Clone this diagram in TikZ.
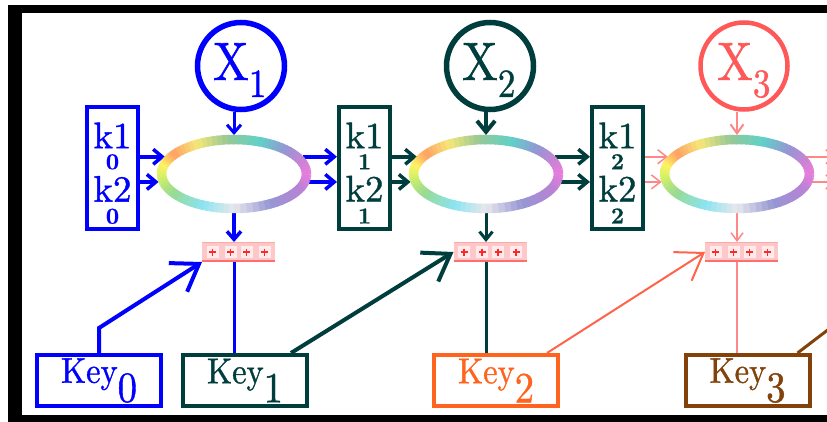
\documentclass[tikz,border=0pt]{standalone}
\usepackage{fontspec}
\usepackage{graphicx}
\newfontfamily\heavyrm{lmroman10-regular}[Extension=.otf,FakeBold=1]
\newfontfamily\heavybf{lmroman10-bold}[Extension=.otf,FakeBold=0.6]
\usetikzlibrary{arrows.meta,shapes.geometric,calc}

\definecolor{sblue}{RGB}{0,0,255}
\definecolor{steal}{RGB}{0,62,62}
\definecolor{sred}{RGB}{255,88,88}
\definecolor{spink}{RGB}{255,135,135}
\definecolor{sorange}{RGB}{255,100,30}
\definecolor{ssalmon}{RGB}{255,100,75}
\definecolor{sbrown}{RGB}{130,66,10}
\definecolor{pfill}{RGB}{255,200,200}
\definecolor{pline}{RGB}{255,110,110}
\definecolor{pplus}{RGB}{255,40,40}
\definecolor{rc0}{RGB}{232,125,222}
\definecolor{rc1}{RGB}{185,130,212}
\definecolor{rc2}{RGB}{150,150,212}
\definecolor{rc3}{RGB}{232,232,236}
\definecolor{rc4}{RGB}{140,228,242}
\definecolor{rc5}{RGB}{150,218,150}
\definecolor{rc6}{RGB}{212,240,100}
\definecolor{rc7}{RGB}{255,242,100}
\definecolor{rc8}{RGB}{255,160,100}
\definecolor{rc9}{RGB}{245,232,120}
\definecolor{rc10}{RGB}{150,200,150}
\definecolor{rc11}{RGB}{95,210,200}
\definecolor{rc12}{RGB}{150,150,212}
\definecolor{rc13}{RGB}{205,130,212}

\newcommand\circtext[1]{\scalebox{0.88}[1]{\heavyrm\fontsize{54}{54}\selectfont X\raisebox{-17pt}{\fontsize{40}{40}\selectfont #1}}}
\newcommand\keytext[1]{\scalebox{0.9}[1]{\heavyrm\fontsize{36}{36}\selectfont Key\raisebox{-19pt}{\fontsize{43}{43}\selectfont #1}}}
\newcommand\kstack[1]{\vbox{\offinterlineskip
  \halign{\hfil##\hfil\cr
   \heavyrm\fontsize{37}{37}\selectfont k1\cr
   \noalign{\kern 6pt}
   \heavybf\fontsize{23}{23}\selectfont #1\cr
   \noalign{\kern 6.5pt}
   \heavyrm\fontsize{37}{37}\selectfont k2\cr
   \noalign{\kern 7pt}
   \heavybf\fontsize{23}{23}\selectfont #1\cr}}}
\def\ringstops{0/25/rc0/rc1,25/60/rc1/rc2,60/90/rc2/rc3,90/115/rc3/rc4,115/145/rc4/rc5,145/175/rc5/rc6,175/195/rc6/rc7,195/215/rc7/rc8,215/240/rc8/rc9,240/265/rc9/rc10,265/290/rc10/rc11,290/315/rc11/rc12,315/340/rc12/rc13,340/360/rc13/rc0}
\newcommand\drawring[1]{%
  \foreach \ta/\tb/\ca/\cb in \ringstops {
    \foreach \i in {0,...,5}{
      \pgfmathsetmacro\sa{\ta+(\tb-\ta)*\i/6}
      \pgfmathsetmacro\sb{\ta+(\tb-\ta)*(\i+1)/6+0.8}
      \pgfmathtruncatemacro\pp{100*(\i+0.5)/6}
      \draw[line width=9.5pt,color=\cb!\pp!\ca] (#1.center) ++(\sa:72.5 and 34.5)
        arc[start angle=\sa,end angle=\sb,x radius=72.5,y radius=34.5];
    }
  }%
}

\begin{document}
\begin{tikzpicture}[x=1pt,y=-1pt,
  xcirc/.style={circle,minimum size=87pt,inner sep=0pt},
  ring/.style={ellipse,minimum width=154pt,minimum height=78pt,inner sep=0pt,outer sep=0pt},
  kbox/.style={rectangle,draw,line width=4pt,minimum width=51pt,minimum height=122pt,inner sep=0pt},
  keybox/.style={rectangle,draw,line width=4pt,minimum width=124pt,minimum height=51pt,inner sep=0pt},
  pbox/.style={rectangle,fill=pfill,minimum width=73pt,minimum height=20pt,inner sep=0pt,outer sep=0pt},
  ktxt/.style={anchor=north,inner sep=0pt},
  xtxt/.style={anchor=base west,inner sep=0pt},
  karrow/.style={line width=3.5pt,-{Straight Barb[length=9pt,width=15pt]}},
  thinarrow/.style={line width=1.5pt,-{Straight Barb[length=9pt,width=14pt]}},
  bigarrow/.style={-{Straight Barb[length=25pt,width=34pt]}}
]
\useasboundingbox (0,0) rectangle (827,422);
\clip (0,0) rectangle (827,422);
\fill[white] (0,0) rectangle (827,422);
% frame
\fill[black] (8,5) rectangle (22,422);
\fill[black] (8,5) rectangle (827,13);
\fill[black] (8,415) rectangle (827,422);

% circles
\node[xcirc,draw=sblue,line width=5.5pt] (x1) at (241,66) {};
\node[xtxt,text=sblue] (x1t) at (213,80) {\circtext{1}};
\node[xcirc,draw=steal,line width=5.5pt] (x2) at (490,66) {};
\node[xtxt,text=steal] (x2t) at (462,80) {\circtext{2}};
\node[xcirc,draw=sred,line width=4.5pt] (x3) at (744,66) {};
\node[xtxt,text=sred] (x3t) at (717,80) {\circtext{3}};

% ellipse anchors
\node[ring] (e1) at (234,174) {};
\node[ring] (e2) at (486,174) {};
\node[ring] (e3) at (737,174) {};

% k boxes
\node[kbox,draw=sblue] (k0) at (112.5,168) {};
\node[ktxt,text=sblue] (k0t) at (112.5,122.3) {\kstack{0}};
\node[kbox,draw=steal] (k1) at (364.5,168) {};
\node[ktxt,text=steal] (k1t) at (364.5,122.3) {\kstack{1}};
\node[kbox,draw=steal] (k2) at (617.5,168) {};
\node[ktxt,text=steal] (k2t) at (617.5,122.3) {\kstack{2}};

% plus boxes
\node[pbox] (p1) at (238.5,252) {};
\node[pbox] (p2) at (490,252) {};
\node[pbox] (p3) at (741.5,252) {};

% key boxes
\node[keybox,draw=sblue,text=sblue] (key0) at (99,380.5) {\keytext{0}};
\node[keybox,draw=steal,text=steal] (key1) at (245,380.5) {\keytext{1}};
\node[keybox,draw=sorange,text=sorange] (key2) at (496,380.5) {\keytext{2}};
\node[keybox,draw=sbrown,text=sbrown] (key3) at (747.5,380.5) {\keytext{3}};

\coordinate (k3in) at (836,170);
\coordinate (beyond) at (850,313);

% X arrows
\draw[sblue,line width=3pt,-{Straight Barb[length=8pt,width=14pt]}] (x1.south -| e1.north) -- (e1.north);
\draw[steal,line width=4pt,-{Straight Barb[length=11pt,width=18pt]}] (x2.south -| e2.north) -- (e2.north);
\draw[spink,line width=2pt,-{Straight Barb[length=9pt,width=13pt]}] (x3.south -| e3.north) -- (e3.north);

% k -> ellipse
\draw[sblue,karrow] (k0.east |- e1.166) -- (e1.166);
\draw[sblue,karrow] (k0.east |- e1.186) -- (e1.186);
\draw[steal,karrow] (k1.east |- e2.166) -- (e2.166);
\draw[steal,karrow] (k1.east |- e2.186) -- (e2.186);
\draw[spink,thinarrow] (k2.east |- e3.166) -- (e3.166);
\draw[spink,thinarrow] (k2.east |- e3.186) -- (e3.186);

% ellipse -> k
\draw[sblue,karrow] (e1.14) -- (e1.14 -| k1.west);
\draw[sblue,karrow] (e1.354) -- (e1.354 -| k1.west);
\draw[steal,karrow] (e2.14) -- (e2.14 -| k2.west);
\draw[steal,karrow] (e2.354) -- (e2.354 -| k2.west);
\draw[spink,thinarrow] (e3.14) -- (e3.14 -| k3in);
\draw[spink,thinarrow] (e3.354) -- (e3.354 -| k3in);

% ellipse -> plus box
\draw[sblue,line width=3.5pt,-{Straight Barb[length=8pt,width=14pt]}] (e1.south) -- (e1.south |- p1.north);
\draw[steal,line width=3pt,-{Straight Barb[length=8pt,width=13pt]}] (e2.south) -- (e2.south |- p2.north);
\draw[spink,line width=1.5pt,-{Straight Barb[length=8pt,width=12pt]}] (e3.south) -- (e3.south |- p3.north);

% plus box -> key
\draw[sblue,line width=3pt] (e1.south |- p1.south) -- (e1.south |- key1.north);
\draw[steal,line width=3pt] (e2.south |- p2.south) -- (e2.south |- key2.north);
\draw[spink,line width=1.5pt] (e3.south |- p3.south) -- (e3.south |- key3.north);

% key -> plus box
\draw[sblue,line width=4pt,bigarrow] (key0.north) -- ++(0,-25) -- (p1.south west);
\draw[steal,line width=4pt,bigarrow] ([xshift=-18pt]key1.north east) -- (p2.west);
\draw[ssalmon,line width=2pt,bigarrow] ([xshift=-13pt]key2.north east) -- (p3.west);
\draw[sbrown,line width=3pt] ([xshift=-14pt]key3.north east) -- (beyond);

% rainbow rings
\drawring{e1}
\drawring{e2}
\drawring{e3}

% plus box details
\foreach \p in {p1,p2,p3}{
  \draw[pline,line width=2.5pt] ([yshift=1.25pt]\p.south west) -- ([yshift=1.25pt]\p.south east);
  \draw[pline!60,line width=1pt] ([yshift=-0.5pt]\p.north west) -- ([yshift=-0.5pt]\p.north east);
  \foreach \dx in {-26,-8,8,26}{
    \fill[white,opacity=0.65] ($(\p.center)+(\dx-6,-6)$) rectangle ($(\p.center)+(\dx+6,6)$);
    \draw[pplus,line width=1.2pt] ($(\p.center)+(\dx-3.5,0)$) -- ($(\p.center)+(\dx+3.5,0)$)
      ($(\p.center)+(\dx,-3.5)$) -- ($(\p.center)+(\dx,3.5)$);
  }
}
\end{tikzpicture}
\end{document}
